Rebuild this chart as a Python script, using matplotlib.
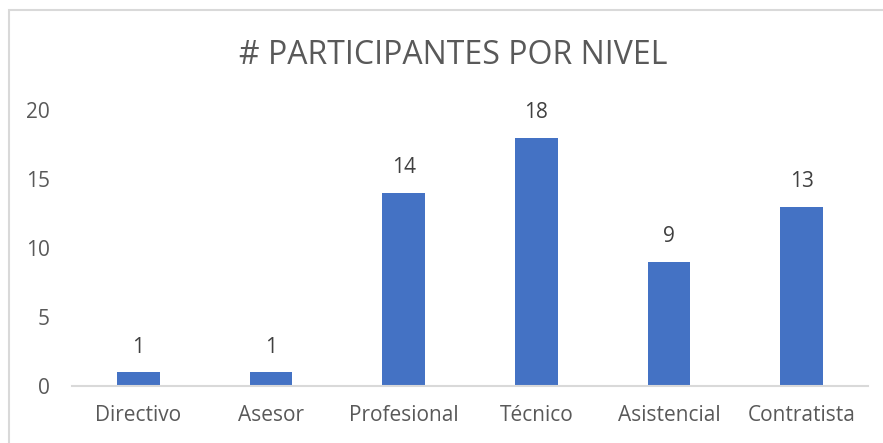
import matplotlib.pyplot as plt
from matplotlib.patches import Rectangle

plt.rcParams['font.family'] = ['Open Sans', 'DejaVu Sans']

categorias = ["Directivo", "Asesor", "Profesional", "Técnico", "Asistencial", "Contratista"]
participantes = [1, 1, 14, 18, 9, 13]
yticks = [0, 5, 10, 15, 20]

texto = "#595959"
linea = "#d9d9d9"
azul = "#4472c4"

fig = plt.figure(figsize=(8.83, 4.43), dpi=100)
ax = fig.add_axes([0.0815, 0.1287, 0.9015, 0.623])

# marco del gráfico (solo se ven borde izq. y sup.)
fig.patches.append(Rectangle((9 / 883, -0.1), 1.2, (443 - 10) / 443 + 0.1,
                             transform=fig.transFigure, fill=False,
                             edgecolor=linea, linewidth=1.5))

x = range(len(categorias))
bars = ax.bar(x, participantes, width=0.32, color=azul)
for b, v in zip(bars, participantes):
    ax.annotate(str(v), (b.get_x() + b.get_width() / 2, v), xytext=(0, 18),
                textcoords="offset points", ha="center", va="center",
                fontsize=15, color="#404040")

ax.set_xlim(-0.5, len(categorias) - 0.5)
ax.set_ylim(0, 20)
ax.set_xticks(list(x))
ax.set_xticklabels(categorias)
ax.set_yticks(yticks)
ax.tick_params(axis="both", length=0, labelsize=15, colors=texto)
ax.tick_params(axis="x", pad=14)
ax.tick_params(axis="y", pad=16)
for s in ["top", "right", "left"]:
    ax.spines[s].set_visible(False)
ax.spines["bottom"].set_color(linea)
ax.spines["bottom"].set_linewidth(1.5)

fig.text(0.513, 0.875, "# PARTICIPANTES POR NIVEL", ha="center", va="center",
         fontsize=23, color=texto)

plt.savefig("out.png", dpi=100)
